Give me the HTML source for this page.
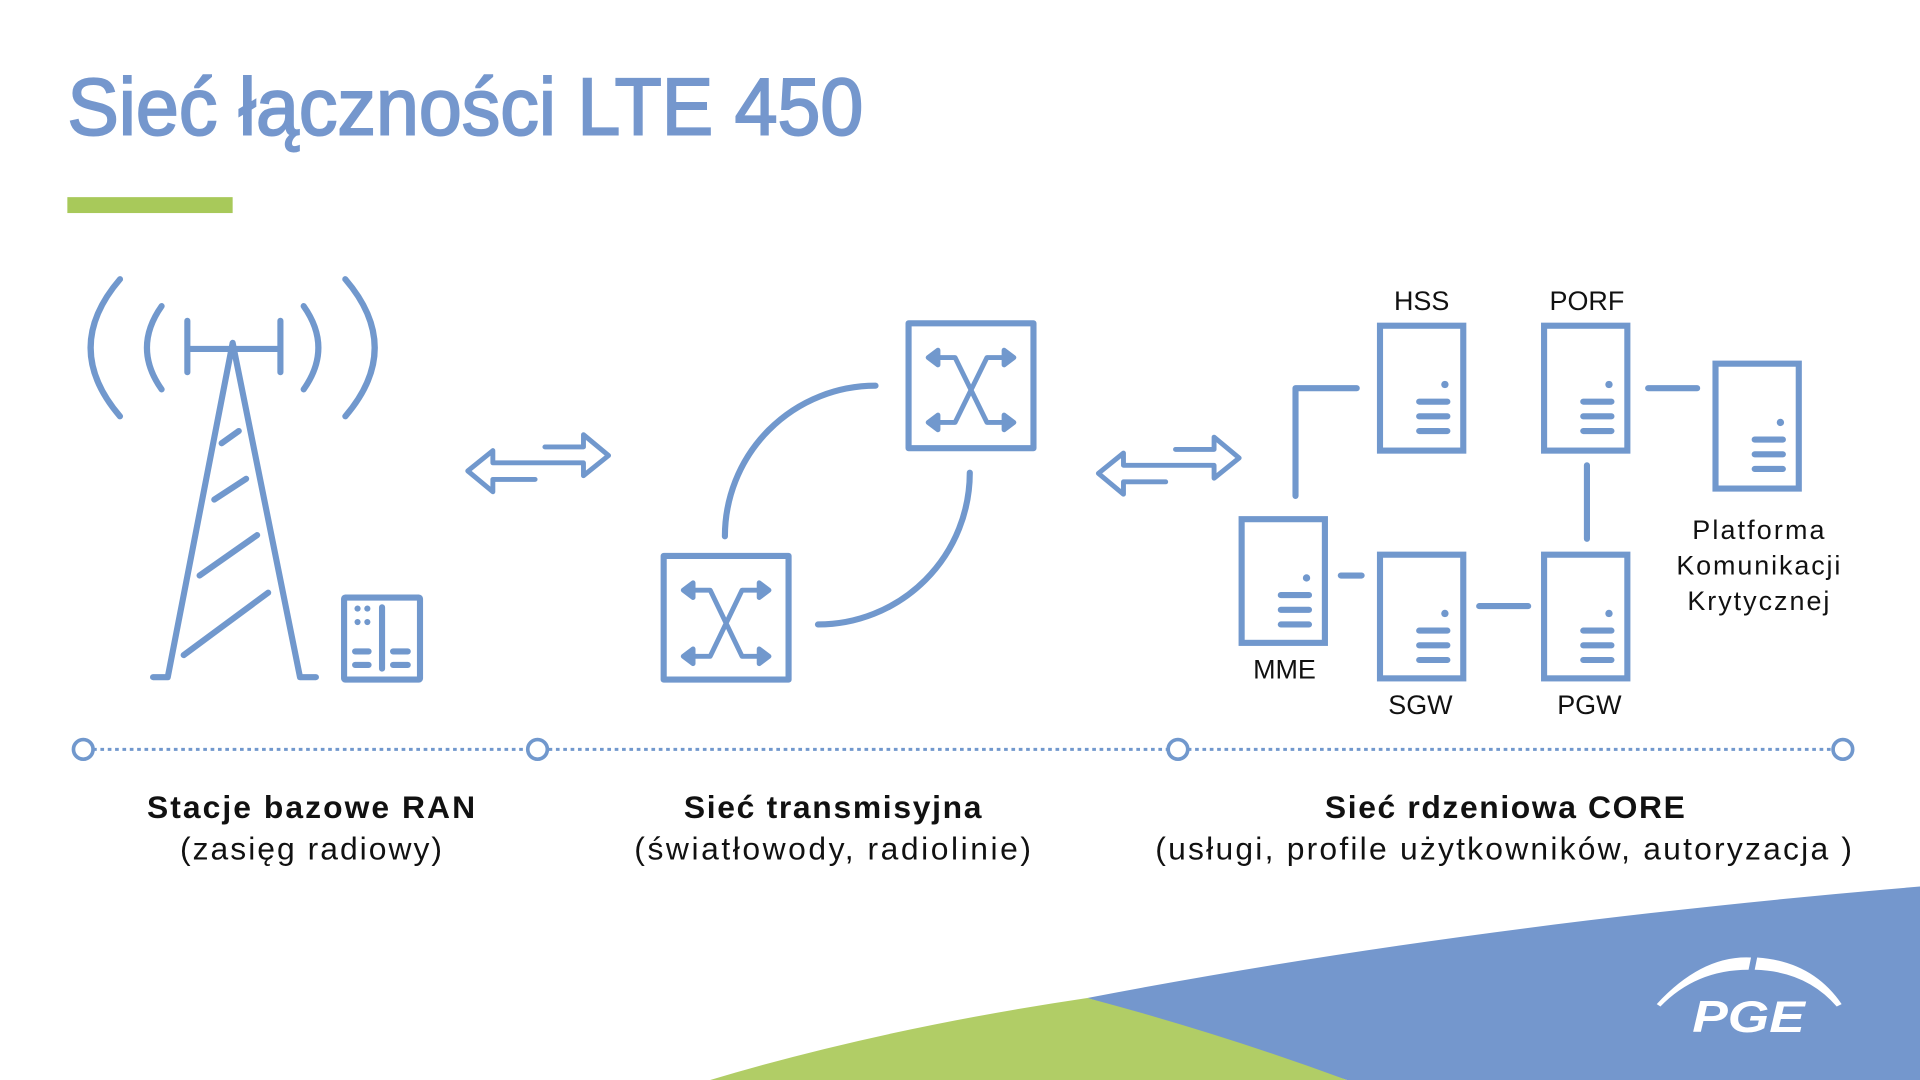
<!DOCTYPE html>
<html><head><meta charset="utf-8"><style>
html,body{margin:0;padding:0;background:#fff;}
svg{display:block;}
text{font-family:"Liberation Sans",sans-serif;}
</style></head><body>
<svg width="1920" height="1080" viewBox="0 0 1568 882" xmlns="http://www.w3.org/2000/svg">
<rect width="1568" height="882" fill="#fff"/>
<text x="55" y="110" font-size="66" fill="#7597cd" stroke="#7597cd" stroke-width="1.6" textLength="650" lengthAdjust="spacingAndGlyphs">Sieć łączności LTE 450</text>
<rect x="55" y="161" width="135" height="13" fill="#a8c95a"/>

<g fill="none" stroke="#7198cd" stroke-width="5" stroke-linecap="round" stroke-linejoin="round">
<path d="M98,228 Q50,284 98,340"/>
<path d="M132,250 Q108,284 132,318"/>
<path d="M282,228 Q330,284 282,340"/>
<path d="M248,250 Q272,284 248,318"/>
<path d="M153,285 H229 M153,262 V304 M229,262 V304"/>
<path d="M125,553 H137 L190,280 L245,553 H258"/>
<path d="M181,362 L195,352 M175,408 L201,391 M163,470 L210,437 M150,535 L219,484"/>
<rect x="281" y="488" width="62" height="67" rx="1"/>
<path d="M312,496 V546 M290,532 H301 M290,543 H301 M321,532 H333 M321,543 H333"/>
<path d="M445,365 H476.5 V355 L497,372 L476.5,388.5 V378 H402.5 V368 L382,384.6 L402.5,401.6 V391.5 H437" stroke-width="4"/>
<path d="M960,367 H991.5 V357 L1012,374 L991.5,390.5 V380 H917.5 V370 L897,386.6 L917.5,403.6 V393.5 H952" stroke-width="4"/>
<rect x="742" y="264" width="102" height="102"/>
<rect x="542" y="454" width="102" height="101"/>
<path d="M592,438 A123,123 0 0 1 715,315"/>
<path d="M668,510 A124,124 0 0 0 792,386"/>
<path d="M1108,317 H1058 V405 M1095,470 H1112 M1208,495 H1248 M1296,380 V440 M1346,317 H1386"/>
</g>
<g fill="#7198cd" stroke="#7198cd" stroke-width="4" stroke-linejoin="round" stroke-linecap="round">
<path d="M764,292 H780 L806,345 H822 M764,345 H780 L806,292 H822" fill="none"/>
<path d="M758,292 L766,286 V298 Z M828,292 L820,286 V298 Z M758,345 L766,339 V351 Z M828,345 L820,339 V351 Z"/>
<path d="M564,482 H580 L606,536 H622 M564,536 H580 L606,482 H622" fill="none"/>
<path d="M558,482 L566,476 V488 Z M628,482 L620,476 V488 Z M558,536 L566,530 V542 Z M628,536 L620,530 V542 Z"/>
</g>
<g fill="none" stroke="#7198cd" stroke-width="5" stroke-linecap="round">
<g transform="translate(1127,266)"><rect width="68" height="102"/><path d="M32,62H55M32,74H55M32,86H55"/></g>
<g transform="translate(1261,266)"><rect width="68" height="102"/><path d="M32,62H55M32,74H55M32,86H55"/></g>
<g transform="translate(1401,297)"><rect width="68" height="102"/><path d="M32,62H55M32,74H55M32,86H55"/></g>
<g transform="translate(1014,424)"><rect width="68" height="101"/><path d="M32,62H55M32,74H55M32,86H55"/></g>
<g transform="translate(1127,453)"><rect width="68" height="101"/><path d="M32,62H55M32,74H55M32,86H55"/></g>
<g transform="translate(1261,453)"><rect width="68" height="101"/><path d="M32,62H55M32,74H55M32,86H55"/></g>
</g>
<g fill="#7198cd">
<circle cx="1180" cy="314" r="3"/><circle cx="1314" cy="314" r="3"/><circle cx="1454" cy="345" r="3"/>
<circle cx="1067" cy="472" r="3"/><circle cx="1180" cy="501" r="3"/><circle cx="1314" cy="501" r="3"/>
<circle cx="292" cy="497" r="2.5"/><circle cx="300" cy="497" r="2.5"/><circle cx="292" cy="508" r="2.5"/><circle cx="300" cy="508" r="2.5"/>
</g>
<g font-size="22" fill="#111" text-anchor="middle">
<text x="1161" y="253">HSS</text>
<text x="1296" y="253">PORF</text>
<text x="1049" y="554">MME</text>
<text x="1160" y="583">SGW</text>
<text x="1298" y="583">PGW</text>
<text x="1436" y="440" textLength="108">Platforma</text>
<text x="1436" y="469" textLength="134">Komunikacji</text>
<text x="1436" y="498" textLength="116">Krytycznej</text>
</g>
<path d="M76,612 H1497" stroke="#7198cd" stroke-width="2.5" stroke-dasharray="3,3"/>
<g fill="#fff" stroke="#7198cd" stroke-width="3">
<circle cx="68" cy="612" r="8"/><circle cx="439" cy="612" r="8"/><circle cx="962" cy="612" r="8"/><circle cx="1505" cy="612" r="8"/>
</g>
<g font-size="26" fill="#111" text-anchor="middle">
<text x="254" y="668" font-weight="bold" textLength="268">Stacje bazowe RAN</text>
<text x="254" y="702" textLength="214">(zasięg radiowy)</text>
<text x="680" y="668" font-weight="bold" textLength="243">Sieć transmisyjna</text>
<text x="680" y="702" textLength="324">(światłowody, radiolinie)</text>
<text x="1229" y="668" font-weight="bold" textLength="294">Sieć rdzeniowa CORE</text>
<text x="1228" y="702" textLength="569">(usługi, profile użytkowników, autoryzacja )</text>
</g>
<path d="M888,815 Q1200,755 1568,724 V882 H1100 Z" fill="#7497cd"/>
<path d="M580,882 Q720,840 888,815 Q1000,845 1100,882 Z" fill="#b1cd66"/>
<path d="M1353,820 Q1390,780 1430,782 L1428,792 Q1385,792 1356,822 Z M1435,782 Q1480,785 1504,820 L1500,822 Q1475,793 1433,792 Z" fill="#fff"/>
<text x="1428" y="843" font-size="36" font-weight="bold" font-style="italic" fill="#fff" text-anchor="middle" textLength="92" lengthAdjust="spacingAndGlyphs">PGE</text>
</svg>
</body></html>
